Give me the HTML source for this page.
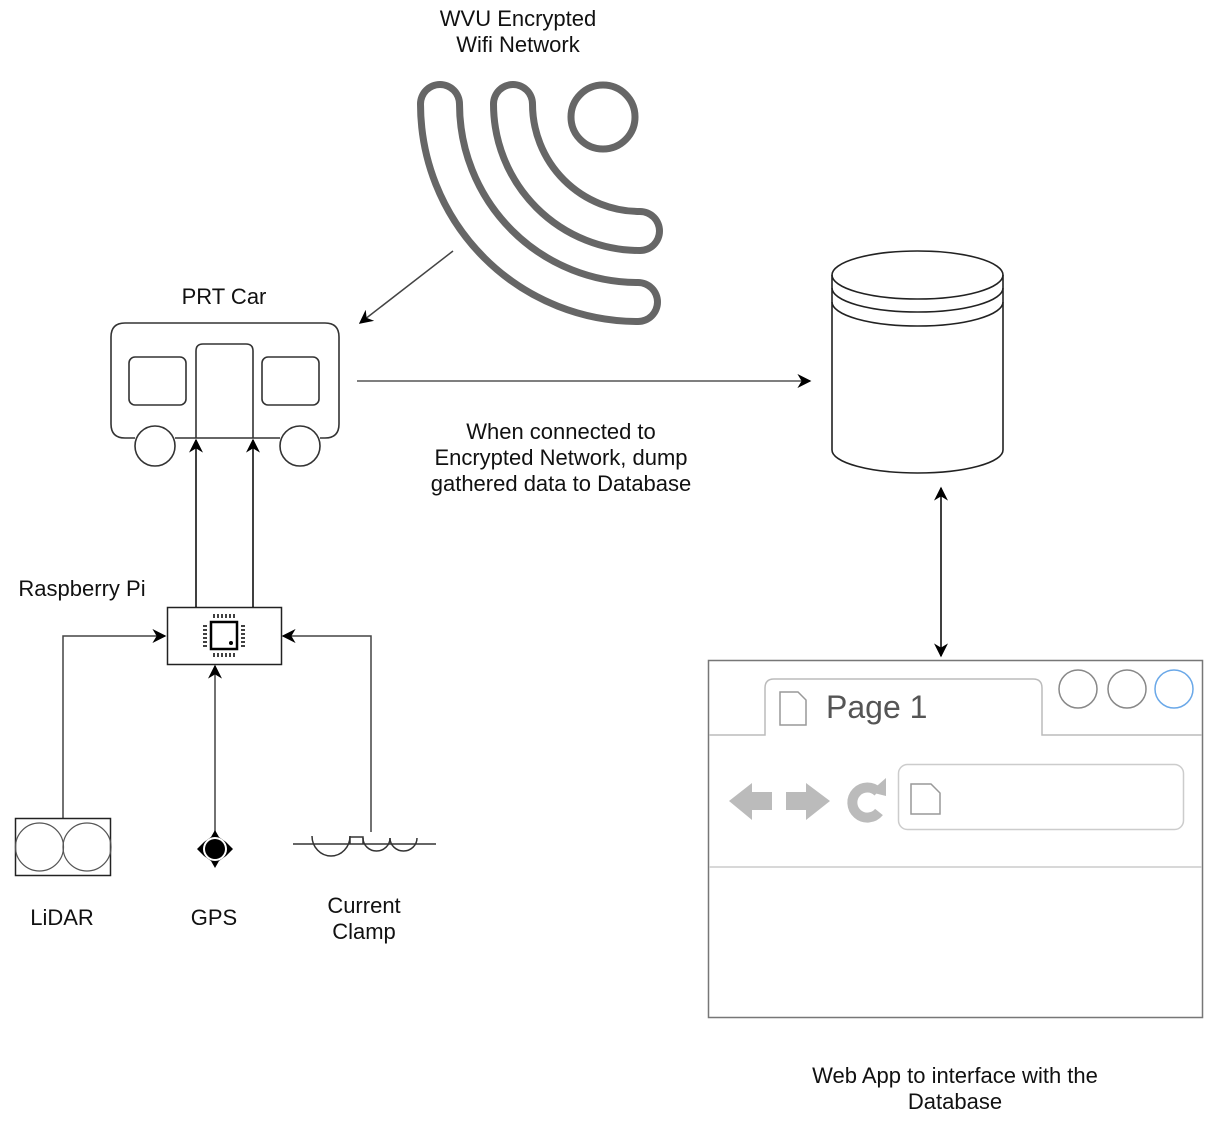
<!DOCTYPE html>
<html><head><meta charset="utf-8"><style>
html,body{margin:0;padding:0;background:#fff;}
svg{display:block;}
text{font-family:"Liberation Sans",Arial,sans-serif;font-size:22px;fill:#111;}
</style></head><body>
<svg width="1216" height="1122" viewBox="0 0 1216 1122" xmlns="http://www.w3.org/2000/svg">
<defs>
<marker id="ah" viewBox="0 0 10 10" refX="9" refY="5" markerWidth="14" markerHeight="14" markerUnits="userSpaceOnUse" orient="auto-start-reverse">
<path d="M0,0 L10,5 L0,10 L3,5 z" fill="#000"/>
</marker>
</defs>

<text x="518" y="26" text-anchor="middle">WVU Encrypted</text>
<text x="518" y="52" text-anchor="middle">Wifi Network</text>

<g fill="none" stroke-linecap="round">
<path d="M440,104 A198,198 0 0 0 638,302" stroke="#666" stroke-width="46"/>
<path d="M440,104 A198,198 0 0 0 638,302" stroke="#fff" stroke-width="32"/>
<path d="M513,104 A127,127 0 0 0 640,231" stroke="#666" stroke-width="46"/>
<path d="M513,104 A127,127 0 0 0 640,231" stroke="#fff" stroke-width="32"/>
<circle cx="603" cy="117" r="32" stroke="#666" stroke-width="7"/>
</g>

<line x1="453" y1="251" x2="360" y2="323" stroke="#444" stroke-width="1.5" marker-end="url(#ah)"/>

<text x="224" y="304" text-anchor="middle">PRT Car</text>
<g fill="none" stroke="#333" stroke-width="1.6">
<path d="M135,438 L125,438 Q111,438 111,424 L111,337 Q111,323 125,323 L325,323 Q339,323 339,337 L339,424 Q339,438 325,438 L320,438"/>
<line x1="175" y1="438" x2="280" y2="438"/>
<rect x="129" y="357" width="57" height="48" rx="6"/>
<rect x="262" y="357" width="57" height="48" rx="6"/>
<path d="M196,438 L196,351 Q196,344 203,344 L246,344 Q253,344 253,351 L253,438"/>
<circle cx="155" cy="446" r="20" fill="#fff"/>
<circle cx="300" cy="446" r="20" fill="#fff"/>
</g>

<line x1="357" y1="381" x2="810" y2="381" stroke="#555" stroke-width="1.5" marker-end="url(#ah)"/>
<text x="561" y="439" text-anchor="middle">When connected to</text>
<text x="561" y="465" text-anchor="middle">Encrypted Network, dump</text>
<text x="561" y="491" text-anchor="middle">gathered data to Database</text>

<g fill="none" stroke="#222" stroke-width="1.6">
<path d="M832,275 L832,450 A85.5,23 0 0 0 1003,450 L1003,275"/>
<ellipse cx="917.5" cy="275" rx="85.5" ry="24"/>
<path d="M832,288 A85.5,24 0 0 0 1003,288"/>
<path d="M832,302 A85.5,24 0 0 0 1003,302"/>
</g>

<line x1="941" y1="488" x2="941" y2="656" stroke="#000" stroke-width="1.5" marker-start="url(#ah)" marker-end="url(#ah)"/>

<g fill="none">
<rect x="708.5" y="660.5" width="494" height="357" stroke="#777" stroke-width="1.5"/>
<path d="M709,735 L765,735 L765,688 Q765,679 774,679 L1033,679 Q1042,679 1042,688 L1042,735 L1202,735" stroke="#bbb" stroke-width="1.5"/>
<circle cx="1078" cy="689" r="19" stroke="#888" stroke-width="1.5"/>
<circle cx="1127" cy="689" r="19" stroke="#888" stroke-width="1.5"/>
<circle cx="1174" cy="689" r="19" stroke="#6aa8e8" stroke-width="1.5"/>
<path d="M780,692 L798,692 L806,700 L806,725 L780,725 Z" stroke="#999" stroke-width="1.5"/>
<rect x="898.5" y="764.5" width="285" height="65" rx="9" stroke="#ccc" stroke-width="1.5"/>
<path d="M911,784 L931,784 L940,793 L940,814 L911,814 Z" stroke="#999" stroke-width="1.5"/>
<line x1="709" y1="867" x2="1202" y2="867" stroke="#ccc" stroke-width="1.5"/>
</g>
<text x="826" y="718" style="font-size:32px;fill:#555">Page 1</text>
<g fill="#bbb">
<path d="M729,801 L752,783 L752,792 L772,792 L772,810 L752,810 L752,820 Z"/>
<path d="M830,801 L806,783 L806,792 L786,792 L786,810 L806,810 L806,820 Z"/>
</g>
<path d="M878,792 A15,15 0 1 0 879,812" fill="none" stroke="#bbb" stroke-width="10"/>
<path d="M870,792 L886,778 L886,796 Z" fill="#bbb"/>

<text x="955" y="1083" text-anchor="middle">Web App to interface with the</text>
<text x="955" y="1109" text-anchor="middle">Database</text>

<text x="82" y="596" text-anchor="middle">Raspberry Pi</text>
<rect x="167.5" y="607.5" width="114" height="57" fill="none" stroke="#222" stroke-width="1.5"/>
<rect x="211" y="622" width="26" height="27" fill="none" stroke="#000" stroke-width="2.5"/>
<circle cx="231" cy="643" r="2" fill="#000"/>
<g stroke="#000" stroke-width="1.5">
<path d="M214,614v4M218,614v4M222,614v4M226,614v4M230,614v4M234,614v4"/>
<path d="M214,653v4M218,653v4M222,653v4M226,653v4M230,653v4M234,653v4"/>
<path d="M203,626h4M203,630h4M203,634h4M203,638h4M203,642h4M203,646h4"/>
<path d="M241,626h4M241,630h4M241,634h4M241,638h4M241,642h4M241,646h4"/>
</g>

<line x1="196" y1="607" x2="196" y2="440" stroke="#000" stroke-width="1.5" marker-end="url(#ah)"/>
<line x1="253" y1="607" x2="253" y2="440" stroke="#000" stroke-width="1.5" marker-end="url(#ah)"/>

<polyline points="63,818 63,636 165,636" fill="none" stroke="#444" stroke-width="1.5" marker-end="url(#ah)"/>
<polyline points="371,832 371,636 283,636" fill="none" stroke="#444" stroke-width="1.5" marker-end="url(#ah)"/>
<line x1="215" y1="837" x2="215" y2="666" stroke="#444" stroke-width="1.5" marker-end="url(#ah)"/>

<rect x="15.5" y="818.5" width="95" height="57" fill="none" stroke="#222" stroke-width="1.5"/>
<circle cx="39.5" cy="847" r="24" fill="none" stroke="#555" stroke-width="1.2"/>
<circle cx="87" cy="847" r="24" fill="none" stroke="#555" stroke-width="1.2"/>
<text x="62" y="925" text-anchor="middle">LiDAR</text>

<path d="M215,830 L219,837 L226,842 L233,849 L226,856 L219,861 L215,868 L211,861 L204,856 L197,849 L204,842 L211,837 Z" fill="#000"/>
<circle cx="215" cy="849" r="12" fill="#fff"/>
<circle cx="215" cy="849" r="10" fill="#000"/>
<text x="214" y="925" text-anchor="middle">GPS</text>

<g fill="none" stroke="#333" stroke-width="1.5">
<line x1="293" y1="844" x2="436" y2="844"/>
<path d="M312,836 A19,20 0 0 0 350,836"/>
<path d="M350,844 L350,837 L363,837 L363,844"/>
<path d="M363,838 A13.5,13 0 0 0 390,838"/>
<path d="M390,838 A13.5,13 0 0 0 417,838"/>
</g>
<text x="364" y="913" text-anchor="middle">Current</text>
<text x="364" y="939" text-anchor="middle">Clamp</text>
</svg>
</body></html>
